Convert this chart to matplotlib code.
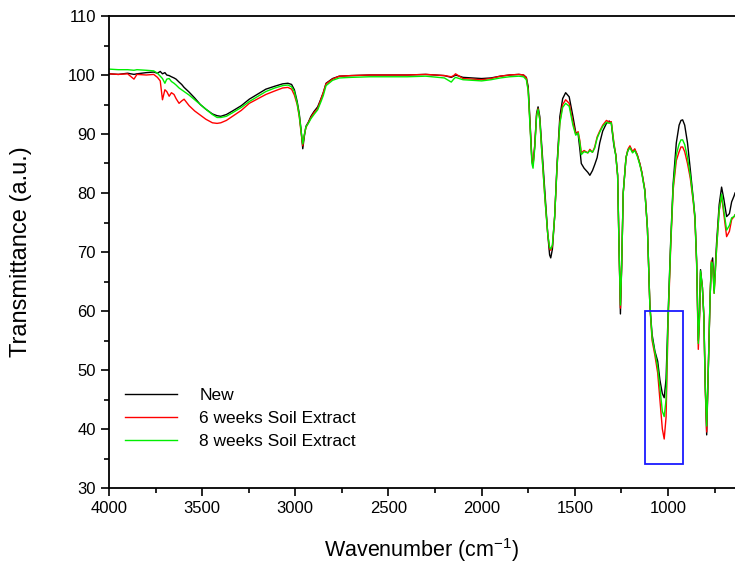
import numpy as np
import matplotlib
matplotlib.use("Agg")
import matplotlib.pyplot as plt
from matplotlib.patches import Rectangle
from matplotlib.ticker import MultipleLocator

plt.rcParams['font.family'] = ['Liberation Sans', 'DejaVu Sans']

# wavenumber grid (cm-1)
wavenumber = [
    4000, 3950, 3900, 3866, 3850, 3800, 3760, 3740, 3725, 3713,
    3700, 3690, 3677, 3665, 3651, 3640, 3624, 3610, 3597, 3570,
    3540, 3510, 3480, 3445, 3420, 3400, 3370, 3337, 3290, 3247,
    3200, 3158, 3110, 3068, 3040, 3020, 3005, 2990, 2979, 2970,
    2960, 2952, 2943, 2930, 2916, 2900, 2880, 2862, 2850, 2835,
    2800, 2764, 2700, 2600, 2500, 2400, 2300, 2200, 2163, 2150,
    2140, 2100, 2050, 2000, 1950, 1900, 1850, 1800, 1775, 1760,
    1750, 1740, 1730, 1724, 1715, 1705, 1697, 1688, 1675, 1660,
    1645, 1635, 1629, 1620, 1608, 1595, 1580, 1565, 1549, 1530,
    1510, 1495, 1482, 1473, 1465, 1450, 1430, 1419, 1405, 1393,
    1380, 1366, 1350, 1330, 1315, 1304, 1290, 1280, 1270, 1262,
    1255, 1248, 1240, 1225, 1215, 1204, 1190, 1178, 1165, 1151,
    1140, 1124, 1110, 1097, 1085, 1070, 1055, 1043, 1030, 1020,
    1010, 999, 985, 972, 955, 940, 930, 921, 910, 895,
    880, 864, 855, 846, 837, 830, 825, 815, 807, 800,
    792, 785, 774, 767, 760, 752, 745, 739, 725, 712,
    700, 685, 670, 658, 645, 640,
]

t_new = [
    100.2, 100.1, 100.3, 100.1, 100.2, 100.4, 100.5, 100.3, 100.6, 100.2,
    100.4, 100.0, 99.9, 99.7, 99.5, 99.3, 98.8, 98.4, 97.9, 97.1,
    96.1, 95.0, 94.2, 93.4, 93.1, 93.0, 93.3, 93.9, 94.8, 95.9,
    96.8, 97.6, 98.1, 98.5, 98.6, 98.4, 97.5, 95.5, 93.5, 91.0,
    87.5, 89.5, 91.3, 92.0, 93.0, 93.8, 94.6, 96.0, 97.0, 98.6,
    99.4, 99.8, 99.9, 100.0, 100.0, 100.0, 100.1, 99.9, 99.6, 99.8,
    100.0, 99.6, 99.5, 99.4, 99.5, 99.8, 100.0, 100.1, 100.0, 99.6,
    98.0, 92.0, 85.5, 84.7, 88.0, 93.5, 94.6, 93.0, 87.0, 80.0,
    73.0, 69.5, 69.0, 70.5, 76.0, 85.0, 93.0, 96.0, 97.0, 96.3,
    93.0, 90.3, 90.0, 87.5, 85.0, 84.2, 83.5, 83.0, 83.8, 84.8,
    86.0, 88.5, 90.5, 91.8, 92.2, 91.8, 88.0, 86.5, 83.0, 70.0,
    59.5, 68.0, 80.0, 86.0, 87.2, 87.8, 87.0, 87.3, 86.5, 85.0,
    83.5, 80.5, 74.0, 61.0, 56.0, 53.2, 51.5, 48.3, 46.0, 45.3,
    48.5, 59.6, 72.0, 81.6, 88.5, 91.5, 92.3, 92.4, 91.5, 88.5,
    84.0, 79.0, 76.0, 68.6, 55.0, 60.0, 67.0, 64.0, 59.0, 48.0,
    39.0, 48.0, 62.0, 68.0, 69.0, 63.5, 68.0, 71.5, 78.0, 81.0,
    79.0, 76.0, 76.5, 78.5, 79.5, 80.0,
]

t_6wk = [
    100.2, 100.1, 100.2, 99.3, 100.1, 100.0, 100.1, 99.6, 99.0, 95.8,
    97.5, 97.2, 96.4, 97.0, 96.7, 96.0, 95.2, 95.6, 95.9, 94.8,
    93.9, 93.2, 92.5, 91.9, 91.8, 91.9, 92.3, 93.0, 94.0, 95.2,
    96.0, 96.7, 97.3, 97.8, 97.9, 97.6, 96.6, 95.0, 93.0, 90.5,
    88.0, 89.8, 91.1, 91.9, 92.8, 93.6, 94.3, 95.9, 97.0, 98.5,
    99.3, 99.8, 99.9, 100.0, 100.0, 100.0, 100.1, 99.9, 99.7, 99.9,
    100.2, 99.4, 99.3, 99.2, 99.4, 99.8, 100.0, 100.1, 100.0, 99.5,
    97.5, 91.5, 85.5, 84.9, 88.0, 93.2, 94.3, 92.5, 86.0, 79.0,
    73.0, 70.5, 70.3, 71.0, 76.0, 84.5, 92.0, 95.0, 95.8, 95.2,
    92.0, 90.0, 90.4, 88.9, 86.8, 87.2, 86.8, 87.4, 86.9, 87.8,
    89.5, 90.5, 91.5, 92.3, 92.0, 92.1, 88.5, 86.5, 83.0, 70.0,
    60.5, 68.0, 80.0, 86.0, 87.4, 88.0, 87.0, 87.5, 86.5, 85.0,
    83.5, 80.5, 74.0, 61.0, 55.0, 52.5, 49.5, 45.0, 40.0, 38.3,
    42.0, 58.0, 71.0, 80.5, 85.5, 87.0, 87.8, 87.8, 87.0, 85.0,
    82.5, 78.5, 75.5, 68.0, 53.5, 59.0, 66.5, 64.0, 59.0, 47.0,
    39.5, 48.0, 62.0, 68.5, 68.0, 63.0, 67.0, 70.5, 77.0, 79.5,
    76.5, 72.6, 73.5, 75.5, 76.0, 76.3,
]

t_8wk = [
    101.0, 100.9, 100.9, 100.8, 100.9, 100.8, 100.7, 100.3, 99.8, 99.4,
    98.6, 99.3, 99.4, 98.9, 98.6, 98.3, 97.8, 97.5, 97.2, 96.6,
    95.8, 95.0, 94.2, 93.3, 92.8, 92.8, 93.0, 93.6, 94.5, 95.5,
    96.4, 97.2, 97.8, 98.2, 98.3, 98.0, 97.2, 95.2, 93.2, 90.8,
    88.3, 89.8, 91.2, 91.8, 92.6, 93.3, 94.1, 95.5, 96.5, 98.2,
    99.1, 99.5, 99.6, 99.7, 99.7, 99.7, 99.8, 99.5, 98.8, 99.3,
    99.6, 99.2, 99.1, 99.0, 99.2, 99.5, 99.7, 99.8, 99.7, 99.2,
    97.3, 91.0, 85.0, 84.2, 87.5, 93.0, 94.2, 92.5, 86.0, 79.0,
    73.0, 70.8, 70.5, 71.2, 76.0, 84.5, 91.8, 94.5, 95.2, 94.7,
    91.5, 89.8, 90.2, 88.6, 86.5, 87.0, 86.8, 87.2, 86.9, 87.6,
    89.3, 90.3, 91.3, 92.0, 91.8, 91.9, 88.3, 86.3, 83.0, 70.0,
    61.0, 68.0, 80.0, 86.0, 87.2, 87.7, 86.8, 87.2, 86.3, 84.8,
    83.3, 80.3, 74.0, 61.0, 55.5, 53.0, 50.5, 47.0, 43.0, 42.1,
    45.0, 59.0, 71.5, 81.0, 86.5, 88.3, 89.0, 89.0, 88.2, 86.0,
    83.0, 78.8, 75.8, 68.3, 54.5, 59.5, 66.8, 64.0, 59.0, 47.5,
    40.5, 48.0, 62.0, 68.3, 68.0, 63.0, 67.0, 70.5, 77.0, 79.8,
    77.0, 73.7, 74.5, 75.8, 76.0, 76.3,
]

labels = ["New", "6 weeks Soil Extract", "8 weeks Soil Extract"]
colors = ["black", "#ff0000", "#00ee00"]

# highlighted region
box_wn = (1125, 921)
box_t = (34, 60)

assert len(wavenumber) == len(t_new) == len(t_6wk) == len(t_8wk)

fig = plt.figure(figsize=(7.35, 5.70), dpi=100)
ax = fig.add_axes([109 / 735, 82 / 570, 1 - 109 / 735, 472 / 570])

for series, lab, col in zip([t_new, t_6wk, t_8wk], labels, colors):
    ax.plot(wavenumber, series, color=col, lw=1.0, label=lab)

ax.add_patch(Rectangle((box_wn[0], box_t[0]), box_wn[1] - box_wn[0], box_t[1] - box_t[0],
                       fill=False, edgecolor="#1a1aff", lw=1.3, zorder=5))

ax.set_xlim(4000, 640)
ax.set_ylim(30, 110)
ax.xaxis.set_major_locator(MultipleLocator(500))
ax.xaxis.set_minor_locator(MultipleLocator(250))
ax.yaxis.set_major_locator(MultipleLocator(10))
ax.yaxis.set_minor_locator(MultipleLocator(5))
ax.tick_params(which='major', direction='out', length=6, width=1.2, labelsize=12, colors='black')
ax.tick_params(which='minor', direction='out', length=3.5, width=1.2)
ax.spines['right'].set_visible(False)
for s in ['left', 'bottom', 'top']:
    ax.spines[s].set_linewidth(1.3)

ax.set_xlabel("Wavenumber (cm$^{\\mathregular{-1}}$)", fontsize=15.5, labelpad=14)
ax.set_ylabel("Transmittance (a.u.)", fontsize=17, labelpad=26)

leg = ax.legend(loc='lower left', bbox_to_anchor=(0.0, 0.05), frameon=False,
                handlelength=3.0, handletextpad=1.3, labelspacing=0.45,
                prop={'size': 12.5})

fig.savefig("out.png", dpi=100)
